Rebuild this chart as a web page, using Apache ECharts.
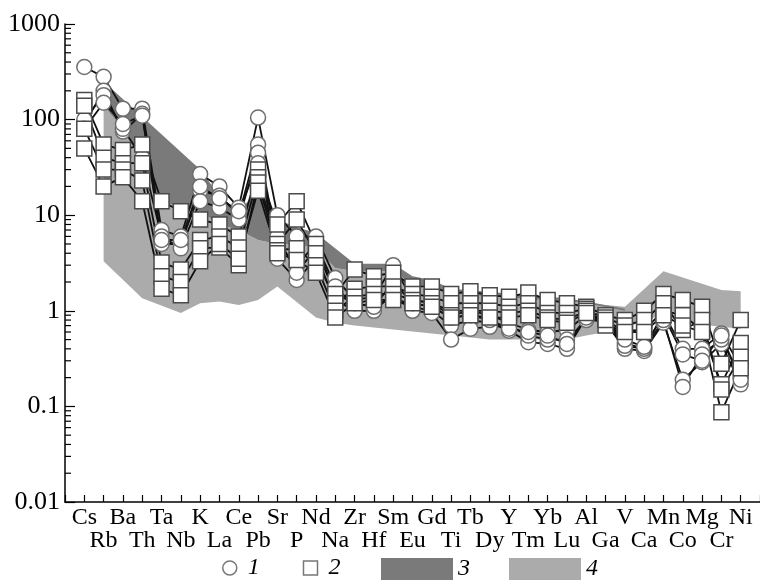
<!DOCTYPE html>
<html><head><meta charset="utf-8">
<script src="https://cdn.jsdelivr.net/npm/echarts@6/dist/echarts.min.js"></script>
<style>html,body{margin:0;padding:0;background:#fff}#chart{width:760px;height:587px}</style>
</head><body><div id="chart"></div>
<script>
const ELEMENTS = ['Cs','Rb','Ba','Th','Ta','Nb','K','La','Ce','Pb','Sr','P','Nd','Na','Zr','Hf','Sm','Eu','Gd','Ti','Tb','Dy','Y','Tm','Yb','Lu','Al','Ga','V','Ca','Mn','Co','Mg','Cr','Ni'];
const Y_TICK_LABELS = [0.01, 0.1, 1, 10, 100, 1000];

// Type 1 samples (circles)
const CIRCLE_A = [355, 280, 130, 130, 7, 6, 27, 20, 12, 105, 10, 6, 6, 2.2, 1.3, 1.4, 3, 1.3, 1.2, 1.0, 1.0, 0.9, 0.75, 0.63, 0.6, 0.63, 0.9, 0.8, 0.46, 0.4, 0.95, 0.4, 0.4, 0.58, 0.26];
const CIRCLE_B = [90, 200, 75, 115, 5, 5, 18, 16, 10, 55, 5, 3, 5, 1.8, 1.1, 1.2, 1.3, 1.1, 1.0, 0.7, 0.8, 0.75, 0.62, 0.47, 0.45, 0.4, 0.85, 0.75, 0.4, 0.38, 0.75, 0.19, 0.29, 0.45, 0.17];
const CIRCLE_C = [100, 180, 80, 40, 6, 4.5, 14, 12, 9, 45, 3.5, 2.1, 3.5, 1.3, 1.0, 1.0, 1.5, 1.0, 0.95, 0.5, 0.65, 0.68, 0.7, 0.55, 0.5, 0.5, 0.8, 0.78, 0.43, 0.4, 0.8, 0.16, 0.35, 0.5, 0.2];
const CIRCLE_D = [80, 150, 90, 110, 5.5, 5.5, 20, 15, 11, 35, 6, 2.5, 4.5, 1.5, 1.2, 1.1, 2.0, 1.2, 1.1, 0.85, 0.9, 0.8, 0.65, 0.6, 0.55, 0.45, 0.85, 0.8, 0.5, 0.42, 0.9, 0.35, 0.3, 0.55, 0.19];

// Type 2 samples (squares)
const SQUARE_A = [160, 55, 48, 55, 14, 11, 9, 8, 6, 30, 8, 14, 5, 1.5, 2.7, 2.3, 2.5, 1.8, 1.8, 1.5, 1.6, 1.45, 1.4, 1.55, 1.3, 1.2, 1.1, 0.9, 0.8, 1.0, 1.5, 1.3, 1.1, 0.28, 0.8];
const SQUARE_B = [140, 40, 35, 35, 3.2, 2.7, 5.5, 6, 4.6, 25, 5, 9, 4, 1.2, 1.7, 1.8, 1.8, 1.5, 1.4, 1.2, 1.2, 1.2, 1.1, 1.2, 0.95, 0.95, 1.05, 0.7, 0.62, 0.63, 1.0, 0.9, 0.63, 0.17, 0.46];
const SQUARE_C = [80, 30, 30, 23, 2.3, 2, 4.5, 4.6, 3, 22, 4.3, 4.5, 3, 1.0, 1.4, 1.5, 1.5, 1.3, 1.2, 0.9, 1.0, 1.0, 0.95, 1.0, 0.85, 0.8, 1.0, 0.85, 0.7, 0.8, 1.2, 0.63, 0.8, 0.15, 0.33];
const SQUARE_D = [50, 20, 25, 14, 1.7, 1.45, 3.3, 5, 3.5, 18, 4, 3.4, 2.5, 0.85, 1.2, 1.3, 1.3, 1.2, 1.1, 0.85, 0.9, 0.85, 0.85, 0.9, 0.8, 0.75, 0.95, 0.8, 0.6, 0.6, 0.9, 0.7, 0.6, 0.087, 0.25];

// Field 3 (dark) boundaries
const FIELD3_UPPER = [['Rb',250],['K',30],['La',16],['Ce',11],['Pb',18],['Sr',9],['P',7.5],['Nd',6.5],['Zr',3.1],['Sm',3.1],['Eu',2.3],['Gd',2.1],['Ti',1.7],['Lu',1.35],['Al',1.25],['V',1.05]];
const FIELD3_LOWER = [['Rb',140],['Ba',80],['Th',35],['Ta',14],['Nb',12],['K',11],['La',8],['Ce',7],['Pb',5.5],['Sr',5],['P',5],['Nd',4.5],['Na',2.8],['Zr',2.6],['Sm',2.6],['Eu',1.9],['Gd',1.8],['Ti',1.5],['Lu',1.25],['Al',1.2],['V',1.0]];
// Field 4 (light) boundaries
const FIELD4_UPPER = [['Rb',140],['Ba',80],['Th',35],['Ta',14],['Nb',12],['K',11],['La',8],['Ce',7],['Pb',5.5],['Sr',5],['P',5],['Nd',4.5],['Na',2.8],['Zr',2.6],['Sm',2.6],['Eu',1.9],['Gd',1.8],['Ti',1.5],['Lu',1.25],['Al',1.2],['V',1.1],['Mn',2.6],['Cr',1.65],['Ni',1.6]];
const FIELD4_LOWER = [['Rb',3.3],['Th',1.35],['Nb',0.95],['K',1.2],['La',1.25],['Ce',1.15],['Pb',1.3],['Sr',1.8],['Nd',0.85],['Na',0.75],['Zr',0.7],['Ti',0.55],['Dy',0.5],['Lu',0.5],['Al',0.55],['V',0.65],['Ca',0.8],['Mn',0.9],['Co',0.75],['Ni',0.65]];

const SERIF = 'Liberation Serif, Times New Roman, serif';
const DARK = '#7a7a7a';
const LIGHT = '#ababab';

const xOf = el => ELEMENTS.indexOf(el) + 1;
const pairs = arr => arr.map((v, i) => [i + 1, v]);

// minor tick values of the log axis (2..9 within each decade)
const MINOR_TICKS = [];
for (let d = 0; d < Y_TICK_LABELS.length - 1; d++)
  for (let m = 2; m <= 9; m++) MINOR_TICKS.push(Number((m * Y_TICK_LABELS[d]).toPrecision(6)));

function fieldSeries(name, upper, lower, color, z) {
  const verts = upper.concat(lower.slice().reverse()).map(([el, v]) => [xOf(el), v]);
  return {
    type: 'custom', name, coordinateSystem: 'cartesian2d', silent: true, z,
    itemStyle: { color },
    data: verts,
    renderItem: (params, api) => {
      if (params.dataIndex !== 0) return null;
      const pts = verts.map(p => api.coord(p));
      return { type: 'polygon', shape: { points: pts }, style: { fill: color } };
    }
  };
}

function sampleSeries(name, values, symbol) {
  return {
    type: 'line', name, data: pairs(values), symbol, symbolSize: 15, z: 5,
    showAllSymbol: true,
    lineStyle: { color: '#111', width: 1.8 },
    itemStyle: { color: '#fff', borderColor: symbol === 'circle' ? '#6e6e6e' : '#4a4a4a', borderWidth: 1.5 }
  };
}

const minorTickSeries = {
  type: 'custom', name: 'minorTicks', coordinateSystem: 'cartesian2d', silent: true, z: 10,
  data: MINOR_TICKS.map(v => [0, v]),
  clip: false,
  renderItem: (params, api) => {
    const p = api.coord([api.value(0), api.value(1)]);
    return { type: 'line', shape: { x1: p[0], y1: p[1], x2: p[0] + 6, y2: p[1] }, style: { stroke: '#000', lineWidth: 1.2 } };
  }
};

const chart = echarts.init(document.getElementById('chart'), null, { renderer: 'canvas' });
chart.setOption({
  animation: false,
  backgroundColor: '#fff',
  grid: { left: 65, right: 0, top: 24, bottom: 85, containLabel: false, outerBoundsMode: 'none' },
  xAxis: {
    type: 'value', min: 0, max: ELEMENTS.length + 1, interval: 1,
    axisLine: { onZero: false, lineStyle: { color: '#000', width: 1.5 } },
    axisTick: { inside: true, length: 7, lineStyle: { color: '#000', width: 1.2 } },
    splitLine: { show: false },
    axisLabel: {
      color: '#000', fontFamily: SERIF, fontSize: 24, lineHeight: 23, margin: 4,
      showMinLabel: true, showMaxLabel: true,
      formatter: v => {
        const i = Math.round(v) - 1;
        if (i < 0 || i >= ELEMENTS.length) return '';
        return i % 2 === 0 ? ELEMENTS[i] : '\n' + ELEMENTS[i];
      }
    }
  },
  yAxis: {
    type: 'log', logBase: 10, min: Y_TICK_LABELS[0], max: Y_TICK_LABELS[Y_TICK_LABELS.length - 1],
    axisLine: { show: true, onZero: false, lineStyle: { color: '#000', width: 1.5 } },
    axisTick: { show: true, inside: true, length: 10, lineStyle: { color: '#000', width: 1.2 } },
    splitLine: { show: false },
    axisLabel: {
      color: '#000', fontFamily: SERIF, fontSize: 26, margin: 5,
      formatter: v => String(Number(v.toPrecision(6)))
    }
  },
  legend: [
    {
      left: 222, top: 556, padding: 0, itemWidth: 14, itemHeight: 14, itemGap: 43, selectedMode: false,
      textStyle: { fontFamily: SERIF, fontStyle: 'italic', fontSize: 24, color: '#000', padding: [0, 0, 0, 6] },
      data: [
        { name: '1', icon: 'circle', itemStyle: { color: '#fff', borderColor: '#777', borderWidth: 1.5 } },
        { name: '2', icon: 'rect', itemStyle: { color: '#fff', borderColor: '#777', borderWidth: 1.5 } }
      ]
    },
    {
      left: 381, top: 557, padding: 0, itemWidth: 72, itemHeight: 22, itemGap: 39, selectedMode: false,
      textStyle: { fontFamily: SERIF, fontStyle: 'italic', fontSize: 24, color: '#000' },
      data: [
        { name: '3', icon: 'rect', itemStyle: { color: DARK, borderWidth: 0 } },
        { name: '4', icon: 'rect', itemStyle: { color: LIGHT, borderWidth: 0 } }
      ]
    }
  ],
  series: [
    fieldSeries('4', FIELD4_UPPER, FIELD4_LOWER, LIGHT, 1),
    fieldSeries('3', FIELD3_UPPER, FIELD3_LOWER, DARK, 1),
    sampleSeries('1', CIRCLE_A, 'circle'),
    sampleSeries('1', CIRCLE_B, 'circle'),
    sampleSeries('1', CIRCLE_C, 'circle'),
    sampleSeries('1', CIRCLE_D, 'circle'),
    sampleSeries('2', SQUARE_A, 'rect'),
    sampleSeries('2', SQUARE_B, 'rect'),
    sampleSeries('2', SQUARE_C, 'rect'),
    sampleSeries('2', SQUARE_D, 'rect'),
    minorTickSeries
  ]
});
</script>
</body></html>
